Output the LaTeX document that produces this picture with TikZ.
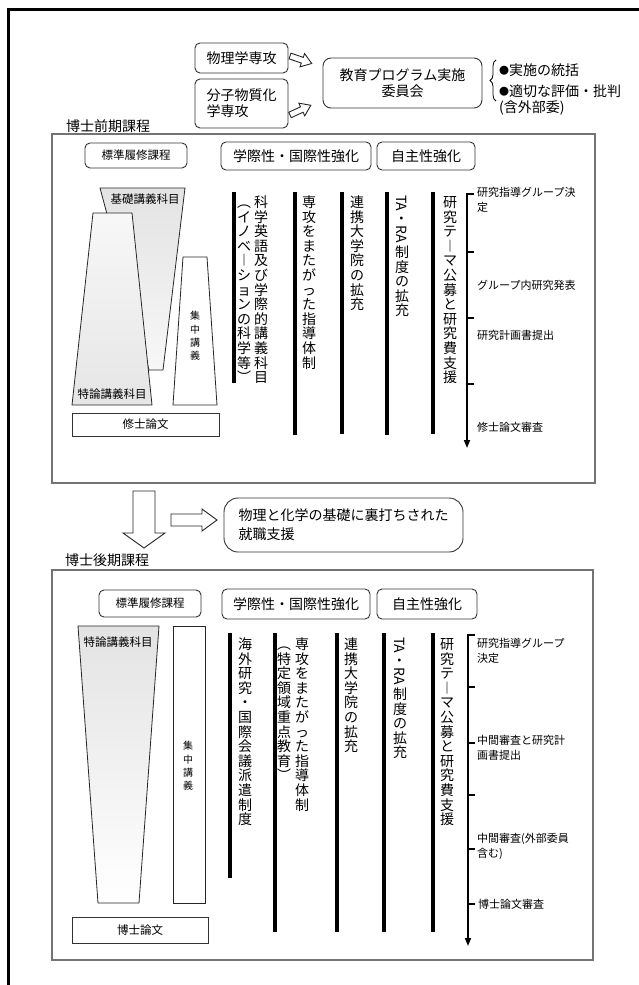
\documentclass[tikz,border=0pt]{standalone}
\usepackage{fontspec}
\setmainfont{Noto Sans CJK JP}
\usetikzlibrary{decorations.pathreplacing,arrows.meta}
\ExplSyntaxOn
\NewDocumentCommand\vt{m}{\vbox{\tl_map_inline:nn{#1}{\hbox~to~1em{\vrule~height~.88em~depth~.12em~width~0pt\hss##1\hss}}}}
\ExplSyntaxOff
\newcommand\bul{\raisebox{0.08em}{\fontsize{10}{10}\selectfont ●}}
\begin{document}
\begin{tikzpicture}[x=1pt,y=-1pt,
  rbox/.style={draw=black!80, line width=0.9pt, rounded corners=5pt, inner sep=0pt, align=center, fill=white},
  sbox/.style={draw=black!80, line width=0.9pt, inner sep=0pt, fill=white},
  bigbox/.style={draw=black!55, line width=1.4pt, inner sep=0pt},
  hollow/.style={draw=black!85, line width=0.9pt, fill=white, line join=miter},
  trap/.style={draw=black!85, line width=0.8pt},
  bar/.style={line width=3.2pt},
  tick/.style={line width=1.6pt},
  flow/.style={line width=1.6pt, -{Triangle[length=8pt,width=6pt]}},
  t14/.style={font=\fontsize{14}{16}\selectfont},
  t11/.style={font=\fontsize{11.5}{15}\selectfont},
  lab/.style={font=\fontsize{11}{15}\selectfont, anchor=west, inner sep=0pt, align=left},
  vcol/.style={font=\fontsize{14}{14.6}\selectfont, inner sep=0pt, anchor=north},
  vsmall/.style={font=\fontsize{10}{13.3}\selectfont, inner sep=0pt}
]
\path[fill=white] (0,0) rectangle (639,985);
\useasboundingbox (0,0) rectangle (639,985);

% outer frame
\coordinate (fbl) at (8.5,985);
\coordinate (ftl) at (8.5,9);
\coordinate (ftr) at (639,9);
\draw[line width=3pt] (fbl) -- (ftl) -- (ftr);

% ---------- top ----------
\node[rbox, t14, minimum width=93pt, minimum height=30pt] (phys) at (241.5,58) {物理学専攻};
\node[rbox, t14, minimum width=93pt, minimum height=49pt, align=left] (chem) at (241.5,103.5) {分子物質化\\学専攻};
\node[rbox, t14, rounded corners=8pt, minimum width=159pt, minimum height=50pt] (comm) at (402.5,83) {教育プログラム実施\\委員会};

\begin{scope}[shift={(290,56)}, rotate=-19]
  \draw[hollow] (0,-3) -- (13,-3) -- (13,-7) -- (23,0) -- (13,7) -- (13,3) -- (0,3) -- cycle;
\end{scope}
\begin{scope}[shift={(290,115)}, rotate=25]
  \draw[hollow] (0,-3) -- (13,-3) -- (13,-7) -- (23,0) -- (13,7) -- (13,3) -- (0,3) -- cycle;
\end{scope}

\coordinate (brb) at (496,101);
\coordinate (brt) at (496,60);
\draw[line width=0.8pt, decorate, decoration={brace, amplitude=6pt}] (brb) -- (brt);
\node[t14, anchor=west, inner sep=0pt] (bul1) at (499,70) {\bul 実施の統括};
\node[t14, anchor=west, inner sep=0pt] (bul2) at (499,91) {\bul 適切な評価・批判};
\node[t14, anchor=west, inner sep=0pt] (bul3) at (499,108) {(含外部委)};

% ---------- upper course ----------
\node[t14, anchor=west, inner sep=0pt] (lab1) at (66,126) {博士前期課程};
\node[bigbox, minimum width=543pt, minimum height=349pt] (upper) at (323.5,308.5) {};

\node[rbox, t11, minimum width=102pt, minimum height=25pt] (std1) at (136,155.5) {標準履修課程};
\node[rbox, t14, minimum width=150pt, minimum height=28pt] (intl1) at (296,156) {学際性・国際性強化};
\node[rbox, t14, minimum width=98pt, minimum height=28pt] (auto1) at (426,156) {自主性強化};

\draw[trap, top color=black!11, bottom color=black!3] (100,188) -- (185,188) -- (163,370) -- (149,370) -- cycle;
\draw[trap, top color=black!3, bottom color=black!10] (93,213) -- (132,213) -- (152,405) -- (72,405) -- cycle;
\draw[trap, fill=white] (183,257) -- (207,257) -- (217,405) -- (173,405) -- cycle;
\node[t11, inner sep=0pt] (kiso) at (145,199) {基礎講義科目};
\node[t11, inner sep=0pt] (tok1) at (112,394) {特論講義科目};
\node[vsmall] (shu1) at (195,336) {\vt{集中講義}};
\node[sbox, t11, minimum width=147pt, minimum height=23pt] (ms) at (145.5,424.5) {修士論文};

% bars
\coordinate (ub1t) at (234,192); \coordinate (ub1b) at (234,383);
\coordinate (ub2t) at (295,192); \coordinate (ub2b) at (295,435);
\coordinate (ub3t) at (342,192); \coordinate (ub3b) at (342,434);
\coordinate (ub4t) at (387,192); \coordinate (ub4b) at (387,435);
\coordinate (ub5t) at (433,192); \coordinate (ub5b) at (433,434);
\draw[bar] (ub1t) -- (ub1b);
\draw[bar] (ub2t) -- (ub2b);
\draw[bar] (ub3t) -- (ub3b);
\draw[bar] (ub4t) -- (ub4b);
\draw[bar] (ub5t) -- (ub5b);

\node[vcol] (u1a) at (261,195) {\vt{科学英語及び学際的講義科目}};
\node[vcol] (u1b) at (244,195) {\vt{︵イノベ︱ションの科学等︶}};
\node[vcol] (u2) at (309,195) {\vt{専攻をまたがった指導体制}};
\node[vcol] (u3) at (357,195) {\vt{連携大学院の拡充}};
\node[font=\fontsize{14}{14.6}\selectfont, rotate=-90, anchor=west, inner sep=0pt] (u4a) at (402,195) {TA・RA};
\node[vcol] (u4b) at ([yshift=-2pt]u4a.east) {\vt{制度の拡充}};
\node[vcol] (u5) at (450,195) {\vt{研究テ︱マ公募と研究費支援}};

% timeline upper
\coordinate (ua0) at (474,194);
\coordinate (uat) at (467,194);
\coordinate (uab) at (467,448);
\draw[flow] (ua0) -- (uat) -- (uab);
\coordinate (ut1a) at (467,252); \coordinate (ut1b) at (474,252);
\coordinate (ut2a) at (467,318); \coordinate (ut2b) at (474,318);
\coordinate (ut3a) at (467,384); \coordinate (ut3b) at (474,384);
\draw[tick] (ut1a) -- (ut1b);
\draw[tick] (ut2a) -- (ut2b);
\draw[tick] (ut3a) -- (ut3b);
\node[lab] (ul1) at (477,200) {研究指導グループ決\\定};
\node[lab] (ul2) at (477,285) {グループ内研究発表};
\node[lab] (ul3) at (477,335) {研究計画書提出};
\node[lab] (ul4) at (477,427) {修士論文審査};

% ---------- middle ----------
\draw[hollow] (133,491) -- (155,491) -- (155,533) -- (165,533) -- (144,548) -- (123,533) -- (133,533) -- cycle;
\draw[hollow] (171,514) -- (202,514) -- (202,509) -- (217,520) -- (202,531) -- (202,526) -- (171,526) -- cycle;
\node[rbox, font=\fontsize{14}{19}\selectfont, rounded corners=14pt, minimum width=239pt, minimum height=54pt, align=left] (job) at (343.5,525) {物理と化学の基礎に裏打ちされた\\就職支援};

% ---------- lower course ----------
\node[t14, anchor=west, inner sep=0pt] (lab2) at (65,560) {博士後期課程};
\node[bigbox, minimum width=541pt, minimum height=390pt] (lower) at (322.5,765) {};

\node[rbox, t11, minimum width=102pt, minimum height=27pt] (std2) at (150,603.5) {標準履修課程};
\node[rbox, t14, minimum width=148pt, minimum height=30pt] (intl2) at (296,604) {学際性・国際性強化};
\node[rbox, t14, minimum width=100pt, minimum height=30pt] (auto2) at (427,604) {自主性強化};

\draw[trap, top color=black!11, bottom color=white] (78,626) -- (159,626) -- (139,903) -- (98,903) -- cycle;
\draw[trap, fill=white] (173,626) rectangle (205,903);
\node[t11, inner sep=0pt] (tok2) at (118,642) {特論講義科目};
\node[vsmall] (shu2) at (188,766) {\vt{集中講義}};
\node[sbox, t11, minimum width=136pt, minimum height=26pt] (dr) at (140,930) {博士論文};

\coordinate (lb1t) at (230,633); \coordinate (lb1b) at (230,878);
\coordinate (lb2t) at (275,633); \coordinate (lb2b) at (275,932);
\coordinate (lb3t) at (337,633); \coordinate (lb3b) at (337,932);
\coordinate (lb4t) at (384,633); \coordinate (lb4b) at (384,932);
\coordinate (lb5t) at (433,633); \coordinate (lb5b) at (433,932);
\draw[bar] (lb1t) -- (lb1b);
\draw[bar] (lb2t) -- (lb2b);
\draw[bar] (lb3t) -- (lb3b);
\draw[bar] (lb4t) -- (lb4b);
\draw[bar] (lb5t) -- (lb5b);

\node[vcol] (l1) at (245,637) {\vt{海外研究・国際会議派遣制度}};
\node[vcol] (l2a) at (302,637) {\vt{専攻をまたがった指導体制}};
\node[vcol] (l2b) at (284,637) {\vt{︵特定領域重点教育︶}};
\node[vcol] (l3) at (351,637) {\vt{連携大学院の拡充}};
\node[font=\fontsize{14}{14.6}\selectfont, rotate=-90, anchor=west, inner sep=0pt] (l4a) at (400,637) {TA・RA};
\node[vcol] (l4b) at ([yshift=-2pt]l4a.east) {\vt{制度の拡充}};
\node[vcol] (l5) at (447,637) {\vt{研究テ︱マ公募と研究費支援}};

\coordinate (la0) at (475,635);
\coordinate (lat) at (468,635);
\coordinate (lab) at (468,946);
\draw[flow] (la0) -- (lat) -- (lab);
\coordinate (lt1a) at (468,687); \coordinate (lt1b) at (475,687);
\coordinate (lt2a) at (468,743); \coordinate (lt2b) at (475,743);
\coordinate (lt3a) at (468,795); \coordinate (lt3b) at (475,795);
\coordinate (lt4a) at (468,849); \coordinate (lt4b) at (475,849);
\coordinate (lt5a) at (468,904); \coordinate (lt5b) at (475,904);
\draw[tick] (lt1a) -- (lt1b);
\draw[tick] (lt2a) -- (lt2b);
\draw[tick] (lt3a) -- (lt3b);
\draw[tick] (lt4a) -- (lt4b);
\draw[tick] (lt5a) -- (lt5b);
\node[lab] (ll1) at (477,651) {研究指導グループ\\決定};
\node[lab] (ll2) at (477,748) {中間審査と研究計\\画書提出};
\node[lab] (ll3) at (477,846) {中間審査(外部委員\\含む)};
\node[lab] (ll4) at (478,904) {博士論文審査};
\end{tikzpicture}
\end{document}
